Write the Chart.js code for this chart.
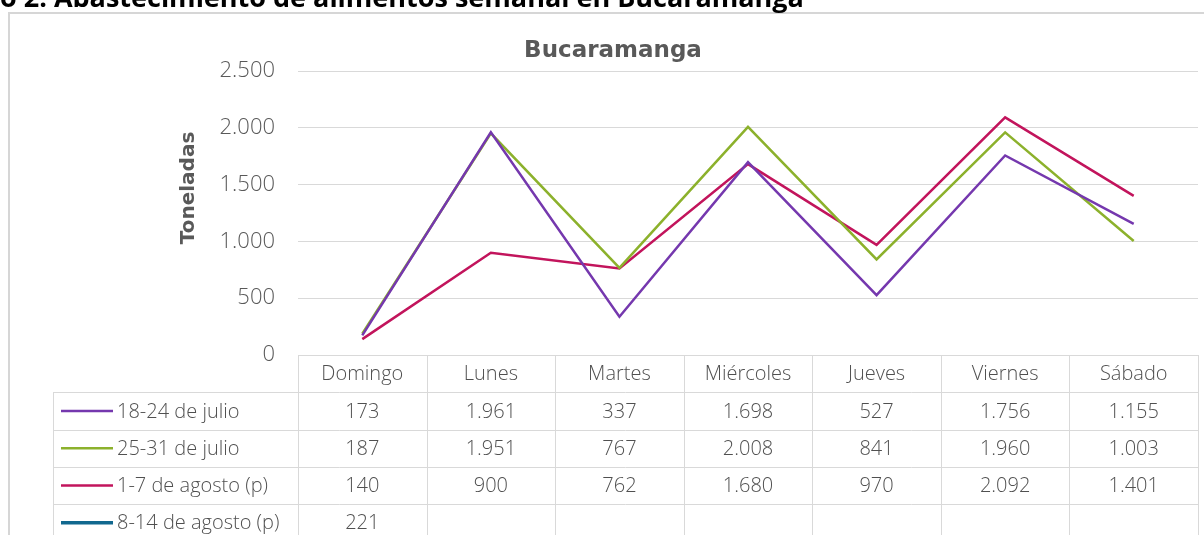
<!DOCTYPE html>
<html>
<head>
<meta charset="utf-8">
<script src="https://cdn.jsdelivr.net/npm/chart.js@4"></script>
<style>
  html, body { margin: 0; padding: 0; background: #fff; overflow: hidden; }
  #wrap { position: relative; width: 1204px; height: 535px; overflow: hidden; }
  #frame { position: absolute; left: 8px; top: 12px; width: 1200px; height: 540px; border: 2px solid #d6d6d6; box-sizing: border-box; }
  #heading { position: absolute; left: 0; top: -17px; font: bold 27px/27px "Open Sans", sans-serif; color: #000; white-space: nowrap; }
  canvas { position: absolute; left: 0; top: 0; }
</style>
</head>
<body>
<div id="wrap">
  <div id="frame"></div>
  <canvas id="chart" width="1204" height="535"></canvas>
  <div id="heading">o 2. Abastecimiento de alimentos semanal en Bucaramanga</div>
</div>
<script>
// days of the week
const days = ["Domingo", "Lunes", "Martes", "Miércoles", "Jueves", "Viernes", "Sábado"];

// weekly series (toneladas)
const julio18 = [173, 1961, 337, 1698, 527, 1756, 1155];
const julio25 = [187, 1951, 767, 2008, 841, 1960, 1003];
const agosto1 = [140, 900, 762, 1680, 970, 2092, 1401];
const agosto8 = [221, null, null, null, null, null, null];

const seriesNames = ["18-24 de julio", "25-31 de julio", "1-7 de agosto (p)", "8-14 de agosto (p)"];
const seriesColors = ["#7538ae", "#8cb12c", "#c2145c", "#11688f"];
const yTicks = [0, 500, 1000, 1500, 2000, 2500];

const fmt = v => v.toLocaleString('de-DE');
const textFont = '300 20px "Open Sans", sans-serif';

// draws title, axis title and the data table under the plot
const tablePlugin = {
  id: 'dataTable',
  afterDraw(chart) {
    const ctx = chart.ctx;
    const x = chart.scales.x;
    const area = chart.chartArea;
    const colW = area.width / days.length;
    const rowH = 37.25;
    const top = area.bottom;
    ctx.save();

    // chart title
    ctx.fillStyle = '#595959';
    ctx.font = 'bold 23px "DejaVu Sans", sans-serif';
    ctx.textAlign = 'center';
    ctx.textBaseline = 'middle';
    ctx.fillText('Bucaramanga', 613, 51);

    // y axis title
    ctx.save();
    ctx.translate(189, 188);
    ctx.rotate(-Math.PI / 2);
    ctx.font = 'bold 20px "DejaVu Sans", sans-serif';
    ctx.fillText('Toneladas', 0, 0);
    ctx.restore();

    // grid of the table
    ctx.strokeStyle = '#d9d9d9';
    ctx.lineWidth = 1;
    ctx.beginPath();
    const legendLeft = 53;
    for (let r = 1; r <= seriesNames.length + 1; r++) {
      const y = Math.round(top + r * rowH) + 0.5;
      ctx.moveTo(legendLeft, y);
      ctx.lineTo(area.right, y);
    }
    ctx.moveTo(legendLeft + 0.5, top + rowH);
    ctx.lineTo(legendLeft + 0.5, 540);
    for (let i = 0; i <= days.length; i++) {
      const xx = Math.round(x.getPixelForValue(i) - colW / 2) + 0.5;
      ctx.moveTo(xx, top);
      ctx.lineTo(xx, 540);
    }
    ctx.stroke();

    ctx.font = textFont;
    ctx.fillStyle = '#505050';
    ctx.textAlign = 'center';
    days.forEach((d, i) => ctx.fillText(d, x.getPixelForValue(i), top + rowH / 2 + 1));

    const allData = [julio18, julio25, agosto1, agosto8];
    allData.forEach((arr, r) => {
      const cy = top + (r + 1.5) * rowH + 1;
      arr.forEach((v, i) => {
        if (v !== null) ctx.fillText(fmt(v), x.getPixelForValue(i), cy);
      });
      // legend key
      ctx.strokeStyle = seriesColors[r];
      ctx.lineWidth = r === 3 ? 3.5 : 2.5;
      ctx.beginPath();
      ctx.moveTo(61, cy - 1);
      ctx.lineTo(113, cy - 1);
      ctx.stroke();
      ctx.textAlign = 'left';
      ctx.fillText(seriesNames[r], 117, cy);
      ctx.textAlign = 'center';
    });
    ctx.restore();
  }
};

new Chart(document.getElementById('chart'), {
  type: 'line',
  data: {
    labels: days,
    datasets: [julio18, julio25, agosto1, agosto8].map((d, i) => ({
      label: seriesNames[i],
      data: d,
      borderColor: seriesColors[i],
      borderWidth: 2.5,
      pointRadius: 0,
      tension: 0
    }))
  },
  options: {
    responsive: false,
    animation: false,
    layout: { padding: { left: 0, top: 71, right: 6, bottom: 180 } },
    plugins: { legend: { display: false }, tooltip: { enabled: false }, title: { display: false } },
    scales: {
      x: { display: false, offset: true },
      y: {
        min: 0,
        max: 2500,
        afterBuildTicks: s => { s.ticks = yTicks.map(v => ({ value: v })); },
        afterFit: s => { s.width = 298; },
        border: { display: false },
        grid: { color: '#d9d9d9', drawTicks: false },
        ticks: {
          padding: 23,
          color: '#595959',
          font: { family: '"Open Sans", sans-serif', size: 22, weight: '300' },
          callback: v => fmt(v)
        }
      }
    }
  },
  plugins: [tablePlugin]
});
</script>
</body>
</html>
